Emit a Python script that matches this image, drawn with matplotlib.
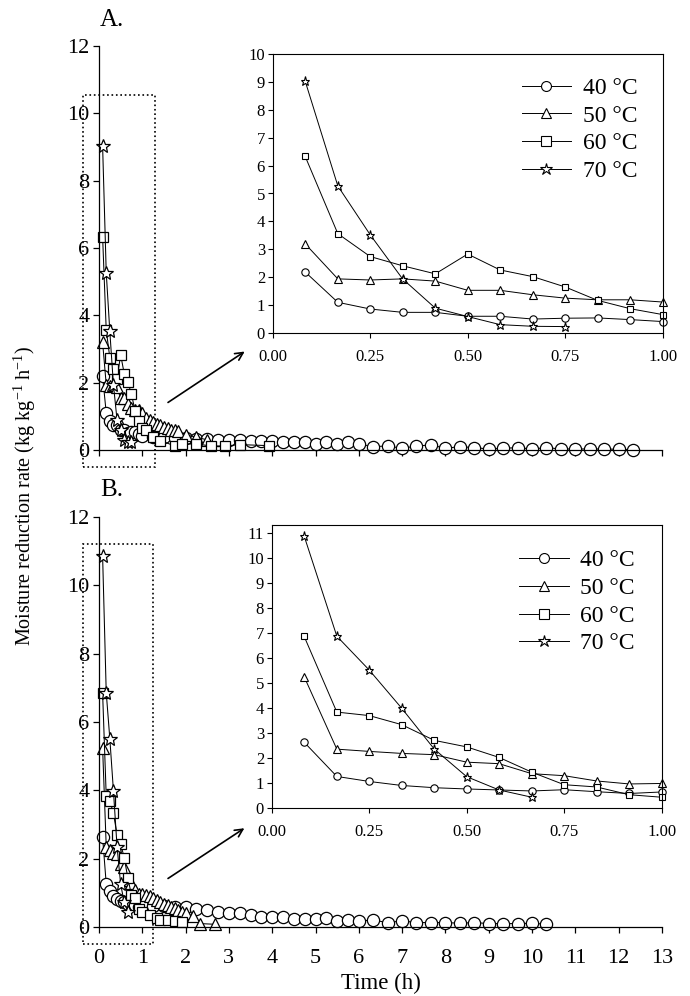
import matplotlib
matplotlib.use('Agg')
import matplotlib.pyplot as plt
from matplotlib.patches import Rectangle

plt.rcParams['font.family'] = 'Liberation Serif'
plt.rcParams['mathtext.fontset'] = 'custom'
plt.rcParams['mathtext.rm'] = 'Liberation Serif'
plt.rcParams['mathtext.default'] = 'regular'

# sampling times (h): every 5 min in the first hour
t5 = [0.083, 0.167, 0.25, 0.333, 0.417, 0.5, 0.583, 0.667, 0.75, 0.833, 0.917, 1.0]

# ---- panel A ----
a40_t = t5 + [1.25, 1.5, 1.75, 2.0, 2.25, 2.5, 2.75, 3.0, 3.25, 3.5, 3.75, 4.0, 4.25, 4.5, 4.75,
              5.0, 5.25, 5.5, 5.75, 6.0, 6.33, 6.67, 7.0, 7.33, 7.67, 8.0, 8.33, 8.67, 9.0, 9.33,
              9.67, 10.0, 10.33, 10.67, 11.0, 11.33, 11.67, 12.0, 12.33]
a40_y = [2.19, 1.10, 0.86, 0.74, 0.74, 0.60, 0.60, 0.50, 0.53, 0.54, 0.48, 0.41,
         0.40, 0.38, 0.36, 0.35, 0.33, 0.32, 0.31, 0.30, 0.29, 0.28, 0.27, 0.26, 0.25, 0.24, 0.23,
         0.18, 0.23, 0.18, 0.23, 0.18,
         0.10, 0.12, 0.05, 0.12, 0.15, 0.05, 0.10, 0.07, 0.03, 0.05, 0.07, 0.03, 0.07, 0.03,
         0.03, 0.03, 0.03, 0.02, 0.01]
a50_t = t5 + [1.083, 1.167, 1.25, 1.333, 1.417, 1.5, 1.583, 1.667, 1.75, 1.833, 2.0, 2.25, 2.5]
a50_y = [3.20, 1.94, 1.90, 1.94, 1.86, 1.53, 1.53, 1.37, 1.25, 1.19, 1.19, 1.11,
         0.95, 0.89, 0.84, 0.78, 0.74, 0.68, 0.65, 0.60, 0.59, 0.57, 0.45, 0.38, 0.30]
a60_t = t5 + [1.083, 1.25, 1.417, 1.75, 1.917, 2.25, 2.583, 2.917, 3.25, 3.917]
a60_y = [6.34, 3.56, 2.74, 2.41, 2.12, 2.83, 2.26, 2.02, 1.65, 1.17, 0.87, 0.66,
         0.59, 0.40, 0.28, 0.12, 0.18, 0.18, 0.12, 0.12, 0.16, 0.13]
a70_t = [0.083, 0.167, 0.25, 0.333, 0.417, 0.5, 0.583, 0.667, 0.75]
a70_y = [9.04, 5.27, 3.52, 1.94, 0.89, 0.59, 0.30, 0.24, 0.23]

# ---- panel B ----
b40_t = t5 + [1.25, 1.5, 1.75, 2.0, 2.25, 2.5, 2.75, 3.0, 3.25, 3.5, 3.75, 4.0, 4.25, 4.5, 4.75,
              5.0, 5.25, 5.5, 5.75, 6.0, 6.33, 6.67, 7.0, 7.33, 7.67, 8.0, 8.33, 8.67, 9.0, 9.33,
              9.67, 10.0, 10.33]
b40_y = [2.63, 1.26, 1.06, 0.90, 0.81, 0.76, 0.72, 0.68, 0.73, 0.65, 0.58, 0.64,
         0.62, 0.62, 0.60, 0.58, 0.52, 0.50, 0.45, 0.42, 0.40, 0.36, 0.28, 0.28, 0.29, 0.24, 0.24,
         0.24, 0.27, 0.18, 0.20, 0.18,
         0.20, 0.13, 0.18, 0.13, 0.13, 0.13, 0.11, 0.13, 0.10, 0.10, 0.10, 0.11, 0.08]
b50_t = t5 + [1.083, 1.167, 1.25, 1.333, 1.417, 1.5, 1.583, 1.667, 1.75, 1.833, 1.917, 2.0,
              2.167, 2.333, 2.667]
b50_y = [5.25, 2.35, 2.26, 2.18, 2.13, 1.83, 1.77, 1.37, 1.29, 1.08, 0.96, 0.98,
         0.95, 0.90, 0.85, 0.80, 0.74, 0.68, 0.63, 0.58, 0.55, 0.50, 0.45, 0.40, 0.32, 0.10, 0.08]
b60_t = t5 + [1.167, 1.333, 1.417, 1.583, 1.75, 1.917]
b60_y = [6.86, 3.83, 3.69, 3.33, 2.70, 2.44, 2.02, 1.43, 0.93, 0.84, 0.53, 0.43,
         0.35, 0.25, 0.20, 0.20, 0.18, 0.15]
b70_t = [0.083, 0.167, 0.25, 0.333, 0.417, 0.5, 0.583, 0.667]
b70_y = [10.87, 6.86, 5.51, 3.99, 2.35, 1.25, 0.72, 0.43]

labels = ['40 °C', '50 °C', '60 °C', '70 °C']
markers = ['o', '^', 's', '*']
ms_main = [8.8, 8.0, 7.6, 10.2]
ms_inset = [5.3, 5.3, 4.9, 6.6]

W, H = 690, 996
fig = plt.figure(figsize=(W / 100, H / 100), dpi=100)


def px_axes(l, r, t, b):
    return fig.add_axes([l / W, 1 - b / H, (r - l) / W, (b - t) / H])


def main_panel(ax, data, show_xlabels):
    for (t, y), m, ms in zip(data, markers, ms_main):
        ax.plot(t, y, color='black', lw=0.75, marker=m, ms=ms, mfc='white', mec='black',
                mew=0.9, clip_on=False)
    ax.set_xlim(0, 13)
    ax.set_ylim(0, 12)
    ax.spines['top'].set_visible(False)
    ax.spines['right'].set_visible(False)
    for s in ['left', 'bottom']:
        ax.spines[s].set_linewidth(0.9)
    ax.set_xticks(range(14))
    ax.set_yticks(range(0, 13, 2))
    ax.tick_params(axis='both', direction='out', length=4, width=0.9, labelsize=16)
    ax.tick_params(axis='x', pad=12, labelbottom=show_xlabels)
    ax.tick_params(axis='y', pad=3)


def inset_panel(ax, data, ymax, legend_anchor):
    for (t, y), m, ms, lab in zip(data, markers, ms_inset, labels):
        tt = [a for a in t if a <= 1.0]
        ax.plot(tt, y[:len(tt)], color='black', lw=0.7, marker=m, ms=ms, mfc='white',
                mec='black', mew=0.8, label=lab, clip_on=False)
    ax.set_xlim(0, 1)
    ax.set_ylim(0, ymax)
    ax.set_xticks([0, 0.25, 0.5, 0.75, 1.0])
    ax.set_xticklabels(['0.00', '0.25', '0.50', '0.75', '1.00'])
    ax.set_yticks(range(0, int(ymax) + 1))
    for s in ax.spines.values():
        s.set_linewidth(0.8)
    ax.tick_params(axis='both', direction='out', length=3.5, width=0.8, labelsize=12)
    ax.tick_params(axis='x', pad=8)
    ax.tick_params(axis='y', pad=2)
    ax.legend(loc='upper left', bbox_to_anchor=legend_anchor, frameon=False, fontsize=17,
              handlelength=2.1, handletextpad=0.5, labelspacing=0.26, markerscale=1.35,
              borderpad=0, borderaxespad=0)


data_a = [(a40_t, a40_y), (a50_t, a50_y), (a60_t, a60_y), (a70_t, a70_y)]
data_b = [(b40_t, b40_y), (b50_t, b50_y), (b60_t, b60_y), (b70_t, b70_y)]

ax_a = px_axes(99, 662, 46, 450)
main_panel(ax_a, data_a, False)
ax_a.add_patch(Rectangle((-0.36, -0.5), 1.65, 11.04, fill=False, ls=':', lw=1.2,
                         clip_on=False))

ax_b = px_axes(99, 662, 517, 927)
main_panel(ax_b, data_b, True)
ax_b.add_patch(Rectangle((-0.37, -0.5), 1.61, 11.71, fill=False, ls=':', lw=1.2,
                         clip_on=False))

ins_a = px_axes(272.7, 662.7, 54, 333)
inset_panel(ins_a, data_a, 10, (0.638, 0.916))
ins_b = px_axes(271.7, 661.7, 525, 808)
inset_panel(ins_b, data_b, 11.3, (0.634, 0.912))

# arrows from the dotted boxes to the insets
for start, tip in [((165.7, 404), (247, 350)), ((165.7, 880), (246.7, 826.7))]:
    fig.add_artist(matplotlib.patches.FancyArrowPatch(
        (start[0] / W, 1 - start[1] / H), (tip[0] / W, 1 - tip[1] / H),
        transform=fig.transFigure, arrowstyle='->', mutation_scale=14, lw=1.2,
        color='black'))

fig.text(100 / W, 1 - 20 / H, 'A.', fontsize=18, ha='left', va='center')
fig.text(100 / W, 1 - 490 / H, 'B.', fontsize=18, ha='left', va='center')
fig.text(25 / W, 1 - 496 / H, 'Moisture reduction rate (kg kg$^{-1}$ h$^{-1}$)',
         rotation=90, fontsize=14.5, ha='center', va='center')
fig.text(380.5 / W, 1 - 983 / H, 'Time (h)', fontsize=16.5, ha='center', va='center')

fig.savefig('out.png', dpi=100)
